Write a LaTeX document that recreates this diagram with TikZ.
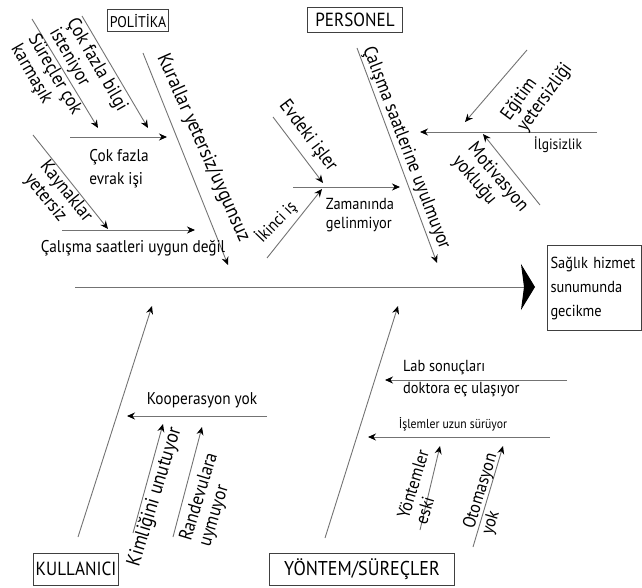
\documentclass[tikz,border=0pt]{standalone}
\usepackage{fontspec}
\setmainfont{PT Sans}[FakeStretch=0.9]
\usetikzlibrary{arrows.meta}
\newcommand{\fsz}[2]{\fontsize{#1}{#2}\selectfont}
\begin{document}
\begin{tikzpicture}[x=1pt,y=-1pt,
  bone/.style={draw=black!55, line width=0.9pt, -{Stealth[length=8pt,width=7pt,color=black]}},
  spine/.style={draw=black!55, line width=1pt, -{Stealth[length=14pt,width=46pt,inset=3pt,color=black]}},
  lbl/.style={font=\fsz{16}{19}, inner sep=0pt, align=left},
  rlbl/.style={font=\fsz{19}{20}, inner sep=0pt, align=left},
  cat/.style={draw=black!75, line width=1pt, font=\fsz{19}{21}, inner sep=2pt}]
\useasboundingbox (0,0) rectangle (642,588);

% head
\node[draw=black!75, line width=1pt, anchor=north west, minimum width=94pt, minimum height=85pt,
      text width=88pt, inner sep=3pt, align=left, font=\fsz{16}{24}] (head) at (547,245)
  {Sağlık hizmet\\sunumunda\\gecikme};
\coordinate (s0) at (75,287);
\draw[spine] (s0) -- (head.west |- s0) [shorten >=12pt];

% POLITIKA
\node[cat, font=\fsz{15.5}{17}, minimum width=60pt, minimum height=22pt] (pol) at (138,21) {POLİTİKA};
\coordinate (k1) at (143,53); \coordinate (k2) at (228,265);
\draw[bone] (k1) -- (k2);
\node[rlbl, font=\fsz{20}{21}, rotate=-66] (kur) at (203,148) {Kurallar yetersiz/uygunsuz};

\coordinate (e1) at (70,137); \coordinate (e2) at (167,137);
\draw[bone] (e1) -- (e2);
\node[lbl, font=\fsz{17}{23}] (evr) at (119,169) {Çok fazla\\evrak işi};
\coordinate (b1) at (82,16); \coordinate (b2) at (148,128);
\draw[bone] (b1) -- (b2);
\node[rlbl, rotate=-60] (bil) at (88,70) {Çok fazla bilgi\\isteniyor};
\coordinate (c1) at (32,19); \coordinate (c2) at (98,128);
\draw[bone] (c1) -- (c2);
\node[rlbl, rotate=-60] (sur) at (46,80) {Süreçler çok\\karmaşık};

\coordinate (w1) at (62,230); \coordinate (w2) at (195,230);
\draw[bone] (w1) -- (w2);
\node[lbl, font=\fsz{17}{19}] (cal) at (133,248) {Çalışma saatleri uygun değil};
\coordinate (y1) at (33,135); \coordinate (y2) at (108,229);
\draw[bone] (y1) -- (y2);
\node[rlbl, rotate=-51] (kay) at (58,198) {Kaynaklar\\yetersiz};

% PERSONEL
\node[cat, minimum width=95pt, minimum height=25pt] (per) at (355,20) {PERSONEL};
\coordinate (p1) at (357,48); \coordinate (p2) at (437,263);
\draw[bone] (p1) -- (p2);
\node[rlbl, rotate=-69] (csu) at (406,148) {Çalışma saatlerine uyulmuyor};

\coordinate (z1) at (293,187); \coordinate (z2) at (400,187);
\draw[bone] (z1) -- (z2);
\node[lbl] (zam) at (360,215) {Zamanında\\gelinmiyor};
\coordinate (v1) at (273,117); \coordinate (v2) at (323,183);
\draw[bone] (v1) -- (v2);
\node[rlbl, rotate=-53] (evd) at (308,136) {Evdeki işler};
\coordinate (i1) at (267,258); \coordinate (i2) at (322,189);
\draw[bone] (i1) -- (i2);
\node[rlbl, font=\fsz{17}{18}, rotate=46] (iki) at (276,222) {İkinci iş};

\coordinate (g1) at (597,132); \coordinate (g2) at (420,132);
\draw[bone] (g1) -- (g2);
\node[lbl, font=\fsz{15}{17}] (ilg) at (558,145) {İlgisizlik};
\coordinate (t1) at (527,50); \coordinate (t2) at (465,122);
\draw[bone] (t1) -- (t2);
\node[rlbl, rotate=54] (egi) at (537,92) {Eğitim\\yetersizliği};
\coordinate (m1) at (540,205); \coordinate (m2) at (483,134);
\draw[bone] (m1) -- (m2);
\node[rlbl, rotate=-50] (mot) at (490,184) {Motivasyon\\yokluğu};

% KULLANICI
\node[cat, minimum width=85pt, minimum height=32pt] (kul) at (76,569) {KULLANICI};
\coordinate (u1) at (78,537); \coordinate (u2) at (152,306);
\draw[bone] (u1) -- (u2);
\coordinate (o1) at (267,416); \coordinate (o2) at (127,416);
\draw[bone] (o1) -- (o2);
\node[lbl, font=\fsz{17}{19}] (koo) at (202,400) {Kooperasyon yok};
\coordinate (n1) at (133,533); \coordinate (n2) at (163,424);
\draw[bone] (n1) -- (n2);
\node[rlbl, font=\fsz{20}{21}, rotate=73] (kim) at (155,497) {Kimliğini unutuyor};
\coordinate (r1) at (173,537); \coordinate (r2) at (202,427);
\draw[bone] (r1) -- (r2);
\node[rlbl, rotate=73] (ran) at (209,500) {Randevulara\\uymuyor};

% YONTEM
\node[cat, font=\fsz{20}{22}, minimum width=185pt, minimum height=32pt] (yon) at (362,569) {YÖNTEM/SÜREÇLER};
\coordinate (q1) at (325,538); \coordinate (q2) at (398,306);
\draw[bone] (q1) -- (q2);
\coordinate (l1) at (567,380); \coordinate (l2) at (385,380);
\draw[bone] (l1) -- (l2);
\node[lbl, anchor=west, font=\fsz{16}{22}] (lab) at (403,379) {Lab sonuçları\\doktora eç ulaşıyor};
\coordinate (s1) at (550,437); \coordinate (s2) at (368,437);
\draw[bone] (s1) -- (s2);
\node[lbl, font=\fsz{13}{15}] (isl) at (453,424) {İşlemler uzun sürüyor};
\coordinate (x1) at (420,530); \coordinate (x2) at (440,446);
\draw[bone] (x1) -- (x2);
\node[rlbl, font=\fsz{18}{19}, rotate=73] (yes) at (422,487) {Yöntemler\\eski};
\coordinate (a1) at (473,547); \coordinate (a2) at (503,446);
\draw[bone] (a1) -- (a2);
\node[rlbl, font=\fsz{18}{19}, rotate=73] (oto) at (490,494) {Otomasyon\\yok};
\end{tikzpicture}
\end{document}
